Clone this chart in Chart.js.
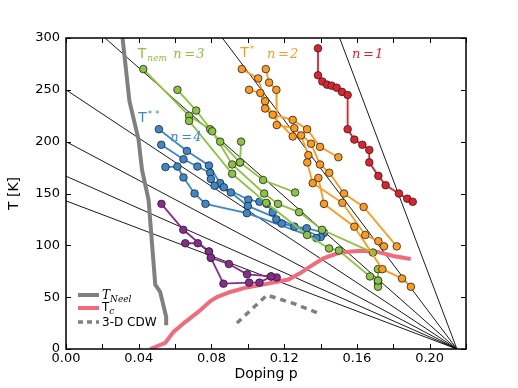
<!DOCTYPE html>
<html><head><meta charset="utf-8">
<script src="https://cdn.jsdelivr.net/npm/chart.js@4.4.1/dist/chart.umd.min.js"></script>
<style>html,body{margin:0;padding:0;background:#fff}</style>
</head><body>
<canvas id="c" width="518" height="388"></canvas>
<script>
// ---- axis ticks ----
const xTickVals = [0.00,0.02,0.04,0.06,0.08,0.10,0.12,0.14,0.16,0.18,0.20,0.22];
const yTickVals = [0,50,100,150,200,250,300];

// ---- fan of guide lines: T(p)=T0*(1-p/pc) ----
const fanT0 = [1000, 500, 333.3, 250, 200, 166.7, 142.9];
const fanPc = 0.215;

// ---- n=1 (red) ----
const redP = [0.1386,0.1386,0.1410,0.1436,0.1461,0.1489,0.1518,0.1549,0.1549,0.1586,0.1630,0.1668,0.1668,0.1718,0.1758,0.1831,0.1877,0.1907];
const redT = [290,264,258,255,254,252,248,245,212,202,197,192,180,167,158,150,145,142];

// ---- T* n=2 (orange), null separates curves ----
const orangeP = [0.0967,0.1057,0.1095,0.1137,0.1247,0.1326,0.1397,0.1498,null,
                 0.1099,0.1117,0.1157,0.1159,0.1256,0.1348,0.1397,0.1448,0.1529,0.1637,0.1819,null,
                 0.1007,0.1069,0.1095,0.1247,0.1293,0.1333,0.1327,0.1357,0.1520,0.1646,0.1718,0.1749,null,
                 0.1388,0.1419,0.1586,0.1740,0.1848,0.1897];
const orangeT = [270,261,239,226,221,212,195,185,null,
                 270,257,250,216,213,198,178,170,150,137,99,null,
                 250,247,232,205,206,187,180,160,141,110,104,99,null,
                 165,140,118,77,68,60];

// ---- T_nem n=3 (green) ----
const greenP = [0.0425,0.0677,0.0793,0.0848,0.0957,0.1084,0.1260,null,
                0.0613,0.0716,0.0804,0.0914,0.1090,0.1166,0.1282,0.1408,0.1688,null,
                0.0677,0.0914,0.1101,0.1326,0.1447,0.1501,0.1672,0.1716,0.1716,0.1716,null,
                0.0963,0.0957,null,
                0.1716,0.1716];
const greenT = [270,225,212,200,180,163,151,null,
                250,230,210,178,150,140,132,115,93,null,
                220,169,141,110,97,95,70,66,64,60,null,
                200,180,null,
                77,66];

// ---- T** n=4 (blue) ----
const blueP = [0.0511,0.0665,0.0786,0.0848,0.0868,0.1003,0.1064,0.1104,0.1137,0.1157,0.1187,0.1256,0.1324,0.1419,null,
               0.0524,0.0646,0.0723,0.0793,0.0797,0.0817,0.0907,0.1000,0.1401,null,
               0.0547,0.0613,0.0646,0.0707,0.0767,0.0995,0.1377];
const blueT = [212,191,177,160,156,144,142,140,132,125,121,118,116.5,112,null,
               197,183,176,170,164,157.5,151,138,108,null,
               175.5,176,165.5,150,140,131,107];

// ---- purple ----
const purpleP = [0.0525,0.0645,0.0786,0.0797,0.0896,0.0996,0.1128,0.1159,null,
                 0.0656,0.0725,0.0786,null,
                 0.0797,0.0866,0.1007,0.1064,0.1128];
const purpleT = [140,115,94,88,82,72,70,69,null,
                 102,102,94,null,
                 88,63,64,64,70];

// ---- T_Neel, Tc, 3-D CDW ----
const neelP = [0.0311,0.0349,0.0399,0.0418,0.0454,0.0491,0.0518,0.0551,0.0551];
const neelT = [300,239,202,173,144,62,55,31,23];
const tcP = [0.0463,0.0546,0.0591,0.0655,0.0729,0.0793,0.0830,0.0903,0.0994,0.1068,0.1223,0.1287,0.1342,0.1415,0.1507,0.1617,0.1709,0.1800,0.1896];
const tcT = [0,6,16.5,26,36,46,50,55,59.4,61.6,67,73,79.4,87.5,93,94.8,93.9,89.7,86.8];
const cdwP = [0.094,0.1105,0.125,0.138];
const cdwT = [25,52,44,35];

// ---- colours ----
const C = {green:'#8bc441', orange:'#ff9a1e', blue:'#3d88cc', red:'#e3212b', purple:'#8a2a8c', pink:'#f26b7c', gray:'#808080'};

function pts(P, T){ return P.map((p,i)=> (p===null||T[i]===null) ? {x:null,y:null} : {x:p,y:T[i]}); }
const fanData = [];
fanT0.forEach(t0=>{ fanData.push({x:0,y:t0},{x:fanPc,y:0},{x:null,y:null}); });

function markerSet(label, data, color, order){
  return {label, data, showLine:true, borderColor:color, backgroundColor:color, borderWidth:1.8,
    pointRadius:3.8, pointBorderWidth:0.8, pointBorderColor:'#222', pointBackgroundColor:color,
    spanGaps:false, order};
}

const datasets = [
  {label:'fan', data:fanData, showLine:true, borderColor:'#000', borderWidth:0.9, pointRadius:0, spanGaps:false, order:20},
  {label:'Tc', data:pts(tcP,tcT), showLine:true, borderColor:C.pink, borderWidth:4, pointRadius:0, order:9},
  {label:'CDW', data:pts(cdwP,cdwT), showLine:true, borderColor:C.gray, borderWidth:3.5, borderDash:[6,5], pointRadius:0, order:9},
  {label:'Neel', data:pts(neelP,neelT), showLine:true, borderColor:C.gray, borderWidth:4, pointRadius:0, order:8},
  markerSet('purple', pts(purpleP,purpleT), C.purple, 6),
  markerSet('blue', pts(blueP,blueT), C.blue, 5),
  markerSet('green', pts(greenP,greenT), C.green, 4),
  markerSet('orange', pts(orangeP,orangeT), C.orange, 3),
  markerSet('red', pts(redP,redT), C.red, 2)
];

const frameTicks = {
  id:'frameTicks',
  afterDatasetsDraw(chart){
    const {ctx, chartArea:a, scales:{x,y}} = chart;
    ctx.save();
    ctx.strokeStyle='#000'; ctx.lineWidth=1;
    ctx.beginPath();
    xTickVals.forEach(v=>{ const px=Math.round(x.getPixelForValue(v))+0.5;
      ctx.moveTo(px,a.bottom); ctx.lineTo(px,a.bottom-5); ctx.moveTo(px,a.top); ctx.lineTo(px,a.top+5); });
    yTickVals.forEach(v=>{ const py=Math.round(y.getPixelForValue(v))+0.5;
      ctx.moveTo(a.left,py); ctx.lineTo(a.left+5,py); ctx.moveTo(a.right,py); ctx.lineTo(a.right-5,py); });
    ctx.stroke();
    ctx.lineWidth=1.5;
    ctx.strokeRect(a.left,a.top,a.right-a.left,a.bottom-a.top);
    ctx.restore();
  }
};

function txt(ctx, s, x, y, font, color){ ctx.font=font; ctx.fillStyle=color; ctx.fillText(s,x,y); return x+ctx.measureText(s).width; }

const labels = {
  id:'labels',
  afterDatasetsDraw(chart){
    const {ctx, scales:{x,y}} = chart;
    ctx.save();
    ctx.textBaseline='alphabetic'; ctx.textAlign='left';
    const sans = s=> s+'px "DejaVu Sans"';
    const ser = s=> 'italic '+s+'px "DejaVu Serif"';
    function nEq(px, py, digit, color){
      txt(ctx,'n',px,py,ser(13),color);
      txt(ctx,'=',px+11,py,'13px "DejaVu Serif"',color);
      txt(ctx,digit,px+23,py,ser(13),color);
    }
    let X=x.getPixelForValue(0.0395), Y=y.getPixelForValue(280.5);
    let e=txt(ctx,'T',X,Y,sans(14),C.green); txt(ctx,'nem',e+1,Y+3,ser(9),C.green);
    nEq(x.getPixelForValue(0.0590), y.getPixelForValue(280.5), '3', C.green);
    X=x.getPixelForValue(0.0958); Y=y.getPixelForValue(282);
    e=txt(ctx,'T',X,Y,sans(14),C.orange); txt(ctx,'*',e+1,Y-5,sans(9),C.orange);
    nEq(x.getPixelForValue(0.1106), y.getPixelForValue(280.5), '2', C.orange);
    nEq(x.getPixelForValue(0.1573), y.getPixelForValue(280.5), '1', C.red);
    X=x.getPixelForValue(0.0397); Y=y.getPixelForValue(219);
    e=txt(ctx,'T',X,Y,sans(14),C.blue); txt(ctx,'* *',e+1,Y-5,sans(9),C.blue);
    nEq(x.getPixelForValue(0.0573), y.getPixelForValue(201), '4', C.blue);
    const lx0=78, lx1=99, tx=102;
    ctx.lineCap='butt';
    ctx.lineWidth=4; ctx.strokeStyle=C.gray; ctx.beginPath(); ctx.moveTo(lx0,295); ctx.lineTo(lx1,295); ctx.stroke();
    e=txt(ctx,'T',tx,299,ser(12),'#000'); txt(ctx,'Neel',e,302,ser(9),'#000');
    ctx.strokeStyle=C.pink; ctx.beginPath(); ctx.moveTo(lx0,308); ctx.lineTo(lx1,308); ctx.stroke();
    e=txt(ctx,'T',tx,311,sans(12),'#000'); txt(ctx,'c',e,314,ser(9),'#000');
    ctx.strokeStyle=C.gray; ctx.lineWidth=3.5; ctx.setLineDash([5,4]); ctx.beginPath(); ctx.moveTo(lx0,322); ctx.lineTo(lx1,322); ctx.stroke();
    ctx.setLineDash([]);
    txt(ctx,'3-D CDW',tx,326,sans(12),'#000');
    ctx.restore();
  }
};

Chart.defaults.font.family = '"DejaVu Sans"';
Chart.defaults.color = '#000';
new Chart(document.getElementById('c'), {
  type:'scatter',
  data:{datasets},
  options:{
    responsive:false, animation:false, devicePixelRatio:1,
    layout:{padding:{left:0,right:52,top:38,bottom:0}},
    plugins:{legend:{display:false}, tooltip:{enabled:false}},
    elements:{line:{tension:0}},
    scales:{
      x:{type:'linear', min:0, max:0.22,
        afterBuildTicks(s){ s.ticks = xTickVals.map(v=>({value:v})); },
        afterFit(s){ s.height = 39; },
        grid:{display:false, drawTicks:false}, border:{display:false},
        ticks:{autoSkip:false, maxRotation:0, padding:2, font:{size:13}, color:'#000',
          callback:(v)=> (Math.round(v*100)%4===0 ? v.toFixed(2) : '')},
        title:{display:true, text:'Doping p', font:{size:14}, color:'#000', padding:{top:5,bottom:5}}
      },
      y:{type:'linear', min:0, max:300,
        afterBuildTicks(s){ s.ticks = yTickVals.map(v=>({value:v})); },
        afterFit(s){ s.width = 66; },
        grid:{display:false, drawTicks:false}, border:{display:false},
        ticks:{autoSkip:false, padding:6, font:{size:13}, color:'#000'},
        title:{display:true, text:'T [K]', font:{size:14}, color:'#000', padding:{top:6,bottom:6}}
      }
    }
  },
  plugins:[frameTicks, labels]
});
</script>
</body></html>
